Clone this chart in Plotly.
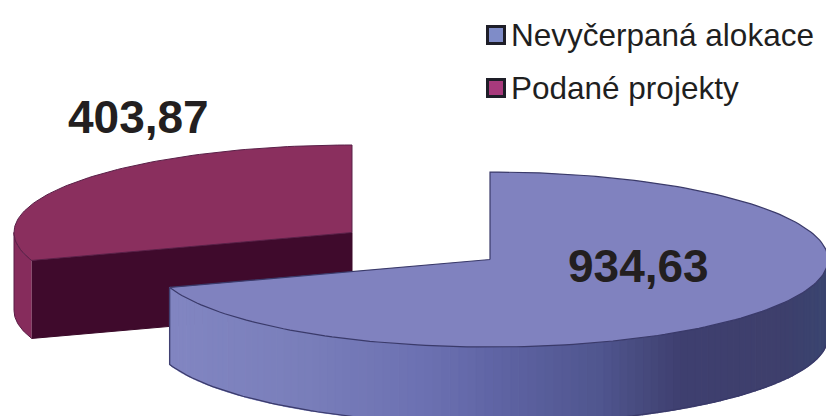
import numpy as np
import plotly.graph_objects as go

# Data
categories = ["Nevyčerpaná alokace", "Podané projekty"]
values = [934.63, 403.87]
value_labels = ["934,63", "403,87"]

# Styles
TOP_COLORS = ["#8082bf", "#8a2f5e"]
LEGEND_COLORS = ["#7f8cc8", "#a83a7c"]
RED_INNER = "#3f0a2c"
RED_OUTER = "#862c5c"
EDGE = "#3a3a6a"
SIDE_STOPS_X = [170, 300, 426, 500, 600, 680, 780, 826]
SIDE_STOPS_RGB = [(130, 134, 194), (122, 127, 187), (108, 113, 178), (95, 100, 164),
                  (80, 86, 143), (63, 64, 112), (62, 63, 108), (58, 69, 112)]

# Exploded-pie projection (pixels)
RX, RY, DEPTH = 338, 87.5, 77
RED_DEPTH = 78
CENTERS = [(490, 259.5), (352, 232.5)]

W, H = 826, 416
fractions = np.array(values) / sum(values)
split = fractions[0] * 2 * np.pi


def ell(c, t, dy=0.0):
    t = np.asarray(t, dtype=float)
    return c[0] + RX * np.sin(t), c[1] - RY * np.cos(t) + dy


def poly(fig, x, y, fill, line=None, lw=1):
    fig.add_trace(go.Scatter(
        x=list(x), y=list(y), mode="lines", fill="toself", fillcolor=fill,
        line=dict(color=line or fill, width=lw),
        hoverinfo="skip", showlegend=False))


fig = go.Figure()

# Red slice (back, offset to the left)
c = CENTERS[1]
t = np.linspace(split, 1.5 * np.pi, 30)
xt, yt = ell(c, t)
xb, yb = ell(c, t, RED_DEPTH)
poly(fig, np.r_[xt, xb[::-1]], np.r_[yt, yb[::-1]], RED_OUTER, "#5a1a44", 1)
ex, ey = ell(c, split)
poly(fig, [ex, c[0], c[0], ex], [ey, c[1], c[1] + RED_DEPTH, ey + RED_DEPTH], RED_INNER, "#3a0828", 1)
t = np.linspace(split, 2 * np.pi, 90)
xt, yt = ell(c, t)
poly(fig, np.r_[c[0], xt, c[0]], np.r_[c[1], yt, c[1]], TOP_COLORS[1], "#5a2048", 1)

# Blue slice wall: shaded strips following the curve, painted right to left
# so that each one overlaps its neighbour and no seam shows
c = CENTERS[0]
edges = np.linspace(np.pi / 2, split, 111)
for a, b in zip(edges[:-1], edges[1:]):
    ts = np.array([a, b])
    xa, ya = ell(c, ts)
    xd, yd = ell(c, ts, DEPTH)
    mid = (xa[0] + xa[1]) / 2
    rgb = [np.interp(mid, SIDE_STOPS_X, [s[i] for s in SIDE_STOPS_RGB]) for i in range(3)]
    col = "rgb(%d,%d,%d)" % tuple(rgb)
    poly(fig, [xa[0], xa[1], xd[1], xd[0]], [ya[0], ya[1], yd[1], yd[0]], col, col, 1.5)

# wall outline
t = np.linspace(np.pi / 2, split, 120)
xb, yb = ell(c, t, DEPTH)
ex, ey = ell(c, split)
fig.add_trace(go.Scatter(x=list(xb) + [ex], y=list(yb) + [ey], mode="lines",
                         line=dict(color=EDGE, width=1.2), hoverinfo="skip", showlegend=False))

# top
t = np.linspace(0, split, 180)
xt, yt = ell(c, t)
poly(fig, np.r_[c[0], xt, c[0]], np.r_[c[1], yt, c[1]], TOP_COLORS[0], EDGE, 1.2)

# Legend
legend_y = [35, 88]
fig.add_trace(go.Scatter(
    x=[496, 496], y=legend_y, mode="markers",
    marker=dict(symbol="square", size=17, color=LEGEND_COLORS, line=dict(color="#1e1e28", width=3)),
    hoverinfo="skip", showlegend=False))

annotations = [
    dict(x=509, y=legend_y[i], text=categories[i], xanchor="left", yanchor="middle",
         font=dict(family="Liberation Sans", size=31.5, color="#1f1f1f"))
    for i in range(2)
]
annotations += [
    dict(x=638, y=266, text="<b>%s</b>" % value_labels[0], xanchor="center", yanchor="middle",
         font=dict(family="Liberation Sans", size=46, color="#231f20")),
    dict(x=138, y=117, text="<b>%s</b>" % value_labels[1], xanchor="center", yanchor="middle",
         font=dict(family="Liberation Sans", size=46, color="#231f20")),
]
for a in annotations:
    a.update(xref="x", yref="y", showarrow=False)

fig.update_layout(
    width=W, height=H, autosize=False,
    margin=dict(l=0, r=0, t=0, b=0),
    paper_bgcolor="white", plot_bgcolor="white",
    showlegend=False, annotations=annotations,
    xaxis=dict(range=[0, W], visible=False, fixedrange=True),
    yaxis=dict(range=[H, 0], visible=False, fixedrange=True),
)
fig.write_html("out.html", post_script="document.body.style.margin='0';",
               config={"displayModeBar": False})
